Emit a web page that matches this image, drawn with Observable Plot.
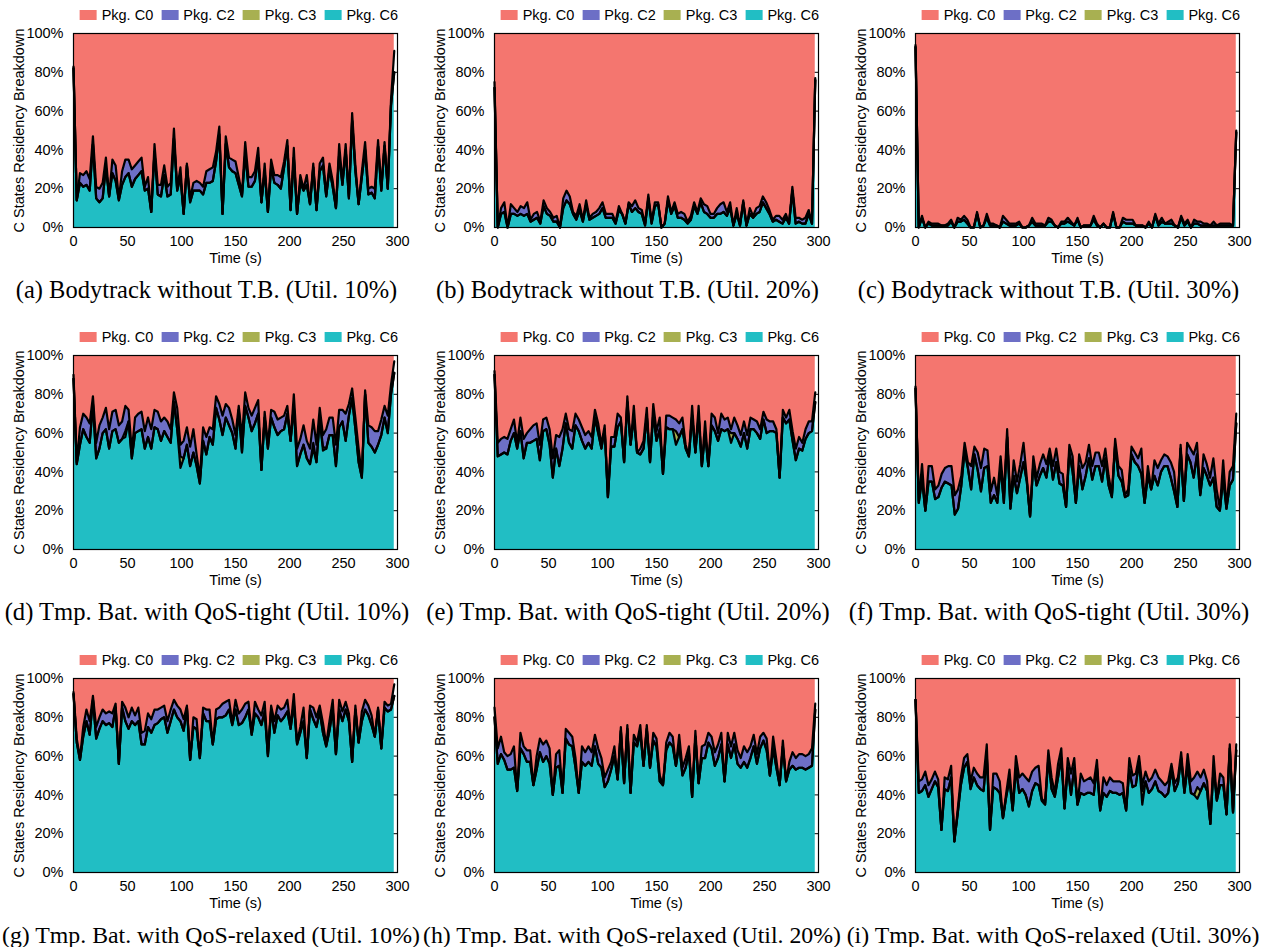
<!DOCTYPE html>
<html>
<head>
<meta charset="utf-8">
<script src="https://cdn.jsdelivr.net/npm/d3@7"></script>
<script src="https://cdn.jsdelivr.net/npm/@observablehq/plot@0.6"></script>
<style>
  html, body { margin: 0; padding: 0; background: #fff; }
  #root { position: relative; width: 1272px; height: 947px; background: #fff; overflow: hidden; }
  .panel { position: absolute; }
  .legend { position: absolute; display: flex; align-items: center; font-family: "Liberation Sans", Arial, sans-serif; font-size: 14.5px; color: #000; transform: translate(-100%, -50%); white-space: nowrap; }
  .legend .sw { width: 17px; height: 10px; margin-right: 5px; }
  .legend .it { display: flex; align-items: center; margin-left: 8px; }
  .caption { position: absolute; font-family: "Liberation Serif", "Times New Roman", serif; color: #000; white-space: nowrap; transform: translate(-50%, -50%); }
</style>
</head>
<body>
<div id="root"></div>
<script>
// ---------- data (percent of residency, sampled every ~3 s from 0 to 297 s) ----------
const states = ["Pkg. C0", "Pkg. C2", "Pkg. C3", "Pkg. C6"];
const stateColors = ["#f4766f", "#6d6fc6", "#a8b051", "#21bec4"];
const xTicks = [0, 50, 100, 150, 200, 250, 300];
const yTicks = [0, 20, 40, 60, 80, 100];

// (a) Bodytrack without T.B. (Util. 10%)
const a_c6 = [82,14,23,21,22,19,43,15,13,15,31,16,28,24,14,22,26,28,21,25,27,29,19,20,8,39,17,16,27,16,17,46,19,26,7,32,13,19,19,19,17,23,23,24,34,48,7,43,31,29,28,22,16,38,21,21,24,36,13,29,8,31,23,22,20,31,42,9,36,7,23,19,22,12,31,9,29,32,16,30,21,10,38,22,40,15,55,29,12,26,40,17,18,15,42,19,42,20,63,80];
const a_c2 = [1,0,5,6,7,6,4,6,7,8,5,0,7,8,1,7,9,7,9,7,7,7,2,6,0,4,5,6,5,5,6,5,1,5,0,1,2,4,5,4,4,6,7,7,5,4,0,4,5,6,6,4,1,6,5,5,5,5,0,4,0,4,4,5,6,3,3,0,5,0,4,1,5,0,2,0,4,4,1,3,3,0,5,1,3,1,4,3,0,3,4,3,3,5,3,1,2,0,3,11];
const a_c3 = [];

// (b) Bodytrack without T.B. (Util. 20%)
const b_c6 = [72,0,7,8,0,7,7,6,7,6,7,3,4,5,2,11,7,6,3,3,0,10,14,12,7,4,9,3,12,4,5,6,7,10,5,5,5,2,9,7,2,12,8,10,8,7,1,15,2,11,12,0,2,14,7,11,5,5,4,2,4,11,7,13,8,7,5,5,7,7,8,6,10,1,7,1,13,1,7,5,7,8,13,10,7,3,4,3,2,5,2,19,2,3,2,2,7,2,76];
const b_c2 = [3,0,3,5,0,5,3,2,4,4,6,1,3,3,1,3,3,2,2,3,0,5,5,4,1,2,3,1,2,1,2,2,3,3,2,2,2,1,2,0,0,1,3,4,2,2,1,2,1,2,1,0,0,2,1,2,2,3,3,1,2,2,1,2,4,4,2,2,3,5,5,2,3,0,3,0,1,0,3,1,3,3,3,3,2,1,2,3,2,2,0,2,3,2,2,3,2,0,1];
const b_c3 = [];

// (c) Bodytrack without T.B. (Util. 30%)
const c_c6 = [93,0,5,0,2,1,1,1,1,1,1,3,0,3,3,4,2,0,0,7,0,1,5,1,1,1,0,3,2,1,1,1,2,0,0,1,3,1,1,1,1,3,3,1,0,2,2,3,2,1,4,0,1,1,1,4,1,0,2,0,0,7,0,0,3,2,2,2,1,1,1,0,2,0,6,1,3,2,2,2,1,0,5,1,3,0,2,2,1,1,1,1,1,1,1,1,1,1,1,49];
const c_c2 = [1,0,1,0,1,1,1,1,0,0,1,1,0,2,1,2,2,0,0,1,0,0,2,1,1,0,0,3,2,1,1,1,1,0,0,0,2,1,1,1,0,2,1,0,0,1,1,2,1,0,1,0,0,0,0,2,1,0,0,0,0,1,0,0,2,2,2,2,0,0,0,0,1,0,1,1,2,0,1,2,0,0,1,1,1,0,2,1,2,1,1,0,2,0,1,1,1,1,0,1];
const c_c3 = [];

// (d) Tmp. Bat. with QoS-tight (Util. 10%)
const d_c6 = [88,44,54,62,58,55,75,47,52,60,62,52,61,62,55,57,58,66,47,60,61,62,52,58,52,63,62,56,61,58,55,76,62,42,47,54,43,50,43,34,56,49,58,54,73,67,59,68,64,60,52,72,50,74,68,61,65,70,41,68,52,68,63,59,61,62,70,56,74,43,49,54,47,44,52,45,67,51,52,59,59,43,63,66,56,69,78,62,45,37,80,55,53,50,54,59,68,60,80,91];
const d_c2 = [2,1,9,8,10,10,4,8,12,8,11,10,10,10,9,9,13,6,4,8,9,9,9,10,10,9,9,10,7,8,7,5,11,6,9,9,10,12,6,3,7,9,5,8,6,8,10,7,9,7,7,2,8,7,5,8,8,7,0,3,2,4,8,8,7,7,4,0,6,9,8,10,9,8,12,9,6,6,10,9,9,11,9,6,14,6,5,6,7,1,2,9,10,11,7,8,6,9,5,6];
const d_c3 = [[16,3],[33,6],[74,3],[77,2]];

// (e) Tmp. Bat. with QoS-tight (Util. 20%)
const e_c6 = [90,48,49,50,49,56,60,52,61,47,55,55,56,57,46,61,62,54,37,52,43,52,65,55,52,64,61,56,52,55,52,68,60,52,62,27,53,53,63,66,45,76,54,68,50,49,52,69,45,70,56,62,39,63,62,62,54,58,62,52,48,69,50,69,43,60,43,64,61,56,62,61,62,55,60,57,53,60,52,62,62,60,57,67,60,61,61,60,37,68,65,67,56,46,52,51,57,60,61,76];
const e_c2 = [2,7,8,8,8,6,7,3,7,10,5,7,8,8,8,6,6,8,10,7,15,10,5,7,9,6,6,7,7,6,6,4,5,2,2,0,5,5,7,2,0,3,0,6,0,3,4,4,0,5,5,6,0,6,7,6,6,7,6,2,0,5,0,5,0,6,0,6,7,4,8,6,6,2,8,7,6,6,7,6,5,6,5,4,7,5,5,2,0,4,3,5,5,6,6,4,5,6,5,5];
const e_c3 = [[56,7],[73,5]];

// (f) Tmp. Bat. with QoS-tight (Util. 30%)
const f_c6 = [83,24,36,20,35,35,26,27,32,35,34,33,18,21,33,51,42,31,49,41,30,42,43,24,28,24,43,24,58,21,38,29,37,45,35,17,44,33,38,42,37,49,36,45,34,33,22,50,40,24,43,31,38,47,36,43,43,35,47,33,27,54,38,35,27,28,49,45,43,39,24,38,31,38,33,40,43,43,37,30,22,52,25,49,45,37,49,28,42,38,33,37,22,20,37,21,33,36,65];
const f_c2 = [1,1,8,0,8,8,5,6,7,7,9,10,10,10,5,4,3,12,4,9,12,10,8,6,9,4,5,4,4,2,8,6,7,10,2,0,4,4,6,7,7,3,7,7,6,6,0,4,8,0,6,11,7,7,7,7,7,8,5,5,1,3,5,6,1,3,4,5,4,13,0,5,0,8,9,6,6,5,8,10,0,2,0,6,7,12,6,1,7,6,4,10,9,1,9,1,7,7,5];
const f_c3 = [];

// (g) Tmp. Bat. with QoS-relaxed (Util. 10%)
const g_c6 = [92,67,58,70,78,71,89,69,74,78,76,77,75,85,56,85,78,74,78,76,78,66,66,75,72,76,77,79,80,72,78,84,80,78,73,85,58,75,74,59,82,78,78,66,79,80,80,81,84,76,84,76,77,80,84,71,82,80,76,83,60,84,72,81,78,80,83,74,87,66,72,78,59,84,79,75,83,72,65,73,84,61,84,78,84,78,57,84,67,78,84,81,76,70,84,64,85,83,84,91];
const g_c2 = [1,2,1,5,6,7,2,6,6,6,6,6,7,2,0,3,7,6,7,5,7,6,7,7,7,8,7,6,6,6,6,5,6,6,6,1,0,5,5,0,3,6,6,0,5,5,7,7,5,1,5,6,7,7,4,1,6,4,5,5,1,2,6,5,6,5,6,1,5,1,3,7,0,2,6,5,3,5,1,5,5,0,5,5,4,4,0,2,0,5,5,5,5,0,1,0,3,3,3,6];
const g_c3 = [];

// (h) Tmp. Bat. with QoS-relaxed (Util. 20%)
const h_c6 = [80,56,61,58,53,53,54,42,64,61,57,57,45,53,62,57,60,56,40,54,55,41,69,66,65,54,41,57,55,57,55,65,56,54,44,47,53,60,48,73,46,74,41,67,65,72,55,74,54,68,65,47,45,63,67,65,55,66,50,54,62,39,70,46,59,59,67,64,55,59,66,47,66,59,66,56,54,57,54,59,65,56,64,68,63,50,64,54,45,65,47,53,55,53,54,54,53,54,55,84];
const h_c2 = [5,8,9,4,7,8,11,0,8,4,6,6,0,7,7,9,8,8,0,7,8,0,5,6,5,5,0,8,7,8,7,6,8,5,5,6,4,5,0,2,0,2,0,4,2,4,0,2,0,4,4,3,0,4,5,5,0,5,4,5,3,0,3,0,6,7,5,6,7,7,6,0,6,6,6,7,5,8,8,6,6,5,6,4,6,0,6,4,0,3,0,4,7,6,7,7,7,7,9,3];
const h_c3 = [];

// (i) Tmp. Bat. with QoS-relaxed (Util. 30%)
const i_c6 = [89,41,42,45,39,43,47,44,22,43,42,49,16,30,45,54,57,43,49,45,43,42,60,22,44,43,41,28,39,48,32,54,41,43,40,34,42,46,45,37,35,59,43,39,49,59,33,54,40,54,35,41,40,41,41,40,54,32,41,39,42,41,41,40,41,32,53,44,45,57,35,47,41,43,47,42,41,39,41,53,42,46,59,41,55,41,40,38,42,46,42,25,54,37,45,45,30,64,31,63];
const i_c2 = [0,6,6,7,6,5,5,4,0,6,6,6,0,2,4,5,4,4,5,6,6,7,6,0,7,8,6,0,2,5,1,6,8,8,9,13,10,8,10,1,1,4,6,2,7,5,0,5,11,5,0,10,7,7,8,6,4,0,8,6,7,6,6,7,5,0,6,6,6,3,3,5,6,6,6,7,6,6,6,3,4,3,3,1,6,6,9,8,7,7,5,0,6,1,6,4,0,2,0,3];
const i_c3 = [[70,7],[87,6]];

const captions = [
  "(a) Bodytrack without T.B. (Util. 10%)",
  "(b) Bodytrack without T.B. (Util. 20%)",
  "(c) Bodytrack without T.B. (Util. 30%)",
  "(d) Tmp. Bat. with QoS-tight (Util. 10%)",
  "(e) Tmp. Bat. with QoS-tight (Util. 20%)",
  "(f) Tmp. Bat. with QoS-tight (Util. 30%)",
  "(g) Tmp. Bat. with QoS-relaxed (Util. 10%)",
  "(h) Tmp. Bat. with QoS-relaxed (Util. 20%)",
  "(i) Tmp. Bat. with QoS-relaxed (Util. 30%)"
];

const panels = [
  [a_c6, a_c2, a_c3], [b_c6, b_c2, b_c3], [c_c6, c_c2, c_c3],
  [d_c6, d_c2, d_c3], [e_c6, e_c2, e_c3], [f_c6, f_c2, f_c3],
  [g_c6, g_c2, g_c3], [h_c6, h_c2, h_c3], [i_c6, i_c2, i_c3]
];

// ---------- layout ----------
const root = document.getElementById("root");
const colLeft = [0, 421, 842];
const rowTop = [28, 350, 673];
const capFont = [24.5, 24.6, 23.8];
const capCenter = [206.5, 207, 211];
const W = 421, H = 239, ML = 73, MR = 24, MT = 5, MB = 40;

function buildPanel([c6, c2, c3list]) {
  const n = c6.length;
  const c3 = new Array(n).fill(0);
  for (const [k, v] of c3list) c3[k] = v;
  const rows = [], bounds = [];
  for (let k = 0; k < n; k++) {
    const t = k * 297 / (n - 1);
    const c0 = 100 - c6[k] - c3[k] - c2[k];
    rows.push({t, state: "Pkg. C6", v: c6[k]});
    rows.push({t, state: "Pkg. C3", v: c3[k]});
    rows.push({t, state: "Pkg. C2", v: c2[k]});
    rows.push({t, state: "Pkg. C0", v: c0});
    bounds.push({t, z: "b1", v: c6[k]});
    bounds.push({t, z: "b2", v: c6[k] + c3[k]});
    bounds.push({t, z: "b3", v: c6[k] + c3[k] + c2[k]});
  }
  return Plot.plot({
    width: W, height: H, marginLeft: ML, marginRight: MR, marginTop: MT, marginBottom: MB,
    style: {fontFamily: "'Liberation Sans', Arial, sans-serif", fontSize: "14.5px", color: "#000", background: "transparent", overflow: "visible"},
    x: {domain: [0, 300]},
    y: {domain: [0, 100]},
    color: {domain: states, range: stateColors},
    marks: [
      Plot.axisY({anchor: "right", ticks: yTicks, tickSize: 5, insetRight: 5, tickFormat: () => "", label: null}),
      Plot.areaY(rows, {x: "t", y: "v", fill: "state", order: ["Pkg. C6", "Pkg. C3", "Pkg. C2", "Pkg. C0"]}),
      Plot.lineY(bounds, {x: "t", y: "v", z: "z", stroke: "#000", strokeWidth: 2.2, strokeLinejoin: "round"}),
      Plot.frame({stroke: "#000", strokeWidth: 1.2}),
      Plot.axisY({anchor: "left", ticks: yTicks, tickFormat: d => d + "%", tickSize: 0, tickPadding: 10,
        label: "C States Residency Breakdown", labelAnchor: "center", labelArrow: "none", labelOffset: 60}),
      Plot.axisX({anchor: "bottom", ticks: xTicks, tickFormat: d => String(d), tickSize: 0, tickPadding: 8,
        label: "Time (s)", labelAnchor: "center", labelArrow: "none", labelOffset: 35})
    ]
  });
}

panels.forEach((p, idx) => {
  const r = Math.floor(idx / 3), c = idx % 3;
  const div = document.createElement("div");
  div.className = "panel";
  div.style.left = colLeft[c] + "px";
  div.style.top = rowTop[r] + "px";
  div.appendChild(buildPanel(p));
  root.appendChild(div);

  // legend
  const lg = document.createElement("div");
  lg.className = "legend";
  lg.style.left = (colLeft[c] + 398) + "px";
  lg.style.top = (rowTop[r] - 13) + "px";
  states.forEach((s, j) => {
    const it = document.createElement("div");
    it.className = "it";
    if (j === 0) it.style.marginLeft = "0px";
    const sw = document.createElement("div");
    sw.className = "sw";
    sw.style.background = stateColors[j];
    const tx = document.createElement("span");
    tx.textContent = s;
    it.appendChild(sw); it.appendChild(tx);
    lg.appendChild(it);
  });
  root.appendChild(lg);

  // caption
  const cap = document.createElement("div");
  cap.className = "caption";
  cap.style.fontSize = capFont[r] + "px";
  cap.style.left = (colLeft[c] + capCenter[r]) + "px";
  cap.style.top = (rowTop[r] + 262) + "px";
  cap.textContent = captions[idx];
  root.appendChild(cap);
});
</script>
</body>
</html>
